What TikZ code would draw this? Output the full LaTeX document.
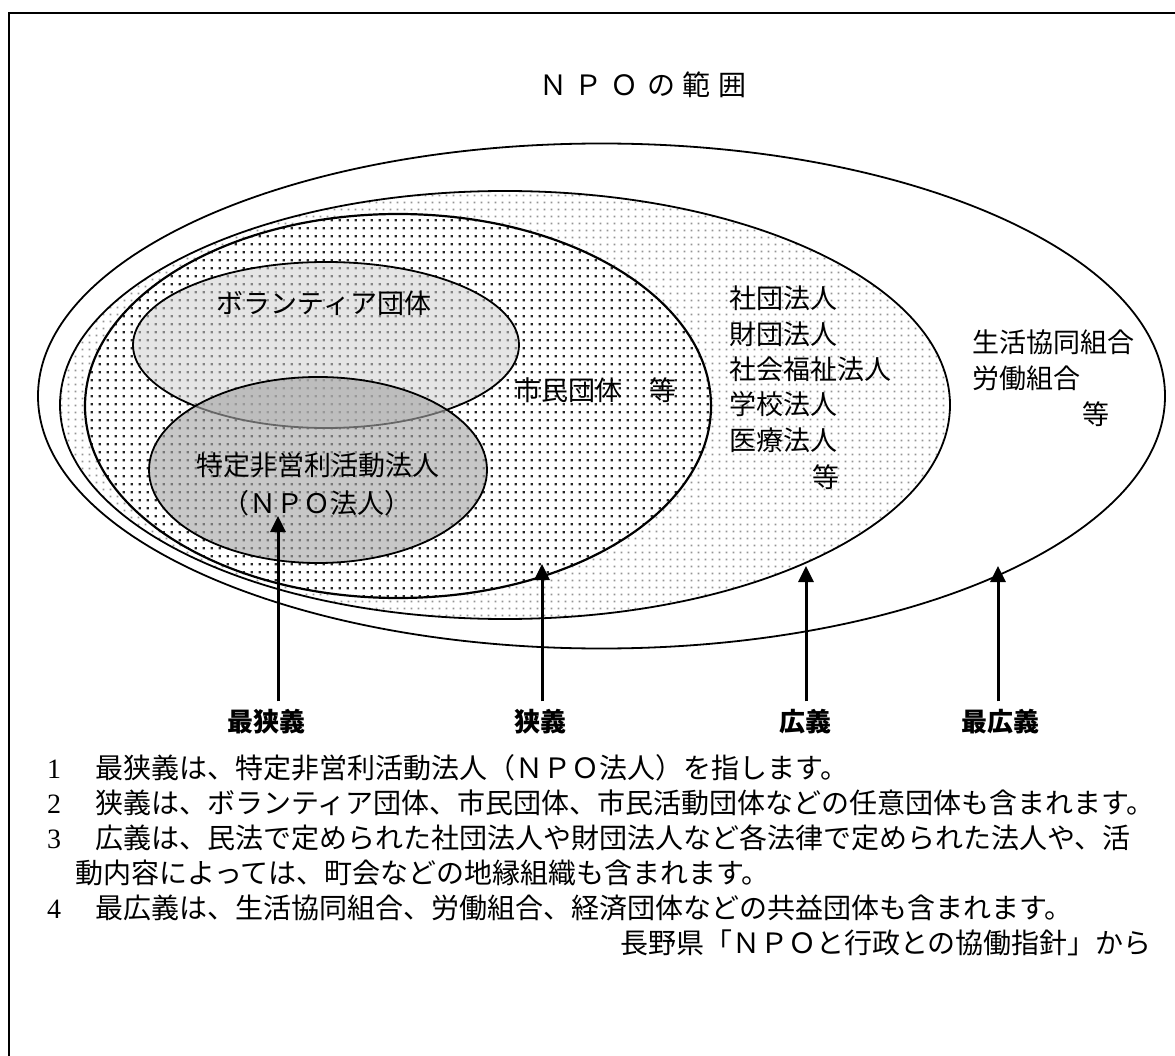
\documentclass[tikz,border=0pt]{standalone}
\usepackage{fontspec}
\setmainfont{Noto Sans CJK JP}
\newfontfamily\numfont{Liberation Serif}
\usetikzlibrary{arrows.meta,patterns}
\definecolor{densecol}{gray}{0.15}
\definecolor{lightcol}{gray}{0.58}
\definecolor{volfill}{gray}{0.82}
\definecolor{npofill}{gray}{0.65}
\pgfdeclarepatternformonly{densedots}{\pgfqpoint{0pt}{0pt}}{\pgfqpoint{8pt}{8pt}}{\pgfqpoint{8pt}{8pt}}{%
  \pgfpathrectangle{\pgfqpoint{3pt}{3pt}}{\pgfqpoint{2.5pt}{2.5pt}}\pgfusepath{fill}}
\pgfdeclarepatternformonly{lightdots}{\pgfqpoint{0pt}{0pt}}{\pgfqpoint{7.3pt}{7.3pt}}{\pgfqpoint{7.3pt}{7.3pt}}{%
  \pgfpathrectangle{\pgfqpoint{3pt}{3pt}}{\pgfqpoint{1.7pt}{1.7pt}}\pgfusepath{fill}}
\begin{document}
\begin{tikzpicture}[x=1pt,y=-1pt,
  ring/.style={draw=black,line width=1.8pt},
  inlabel/.style={inner sep=0pt,font=\fontsize{27}{31}\selectfont},
  axislabel/.style={inner sep=0pt,font=\fontsize{26}{30}\selectfont\bfseries},
  noteline/.style={inner sep=0pt,anchor=west,font=\fontsize{28}{32}\selectfont},
  pointer/.style={line width=3pt,-{Triangle[width=15pt,length=16pt]},shorten <=8pt}]
\useasboundingbox (0,0) rectangle (1175,1056);
\fill[white] (0,0) rectangle (1175,1056);
\draw[line width=2.2pt] (9,13) rectangle (1200,1080);

\node[inner sep=0pt,font=\fontsize{28}{32}\selectfont] (title) at (643,85)
  {Ｎ\hspace{8pt}Ｐ\hspace{8pt}Ｏ\hspace{8pt}の\hspace{8pt}範\hspace{8pt}囲};

% outermost (widest sense)
\path[ring,fill=white] (601.5,396) ellipse [x radius=563.5pt,y radius=252.5pt];
% broad sense
\path[fill=white] (505,405) ellipse [x radius=445pt,y radius=214pt];
\path[pattern=lightdots,pattern color=lightcol] (505,405) ellipse [x radius=445pt,y radius=214pt];
\draw[ring] (505,405) ellipse [x radius=445pt,y radius=214pt];
% narrow sense
\path[fill=white] (398,406) ellipse [x radius=313pt,y radius=192pt];
\path[pattern=densedots,pattern color=densecol] (398,406) ellipse [x radius=313pt,y radius=192pt];
\draw[ring,line width=2.2pt] (398,406) ellipse [x radius=313pt,y radius=192pt];
% volunteer groups
\path[fill=volfill,fill opacity=0.55] (326,345) ellipse [x radius=193pt,y radius=83pt];
\draw[ring] (326,345) ellipse [x radius=193pt,y radius=83pt];
% NPO corporations
\path[fill=npofill,fill opacity=0.62] (318,470) ellipse [x radius=169pt,y radius=93pt];
\draw[ring] (318,470) ellipse [x radius=169pt,y radius=93pt];

\node[inlabel] (vol) at (324,303) {ボランティア団体};
\node[inlabel] (npo1) at (318,465) {特定非営利活動法人};
\node[inlabel] (npo2) at (317,503) {（ＮＰＯ法人）};
\node[inlabel,anchor=west] (civ) at (514,390) {市民団体　等};

\node[inlabel,anchor=west] (b1) at (729,298) {社団法人};
\node[inlabel,anchor=west] (b2) at (729,334) {財団法人};
\node[inlabel,anchor=west] (b3) at (729,369) {社会福祉法人};
\node[inlabel,anchor=west] (b4) at (729,404) {学校法人};
\node[inlabel,anchor=west] (b5) at (729,440) {医療法人};
\node[inlabel] (b6) at (826,477) {等};

\node[inlabel,anchor=west] (w1) at (972,342) {生活協同組合};
\node[inlabel,anchor=west] (w2) at (972,378) {労働組合};
\node[inlabel] (w3) at (1096,414) {等};

\coordinate (t1) at (278,516);
\coordinate (t2) at (542,564);
\coordinate (t3) at (806,566);
\coordinate (t4) at (998,566);
\node[axislabel] (l1) at (266,722) {最狭義};
\node[axislabel] (l2) at (540,722) {狭義};
\node[axislabel] (l3) at (805,722) {広義};
\node[axislabel] (l4) at (1000,722) {最広義};
\draw[pointer] (t1 |- l1.north) -- (t1);
\draw[pointer] (t2 |- l2.north) -- (t2);
\draw[pointer] (t3 |- l3.north) -- (t3);
\draw[pointer] (t4 |- l4.north) -- (t4);

\node[noteline] (n1) at (47,768) {{\numfont 1}\hspace{34pt}最狭義は、特定非営利活動法人（ＮＰＯ法人）を指します。};
\node[noteline] (n2) at (47,803) {{\numfont 2}\hspace{34pt}狭義は、ボランティア団体、市民団体、市民活動団体などの任意団体も含まれます。};
\node[noteline] (n3) at (47,838) {{\numfont 3}\hspace{34pt}広義は、民法で定められた社団法人や財団法人など各法律で定められた法人や、活};
\node[noteline] (n3b) at (75,873) {動内容によっては、町会などの地縁組織も含まれます。};
\node[noteline] (n4) at (47,908) {{\numfont 4}\hspace{34pt}最広義は、生活協同組合、労働組合、経済団体などの共益団体も含まれます。};
\node[noteline,anchor=east] (src) at (1152,943) {長野県「ＮＰＯと行政との協働指針」から};
\end{tikzpicture}
\end{document}
